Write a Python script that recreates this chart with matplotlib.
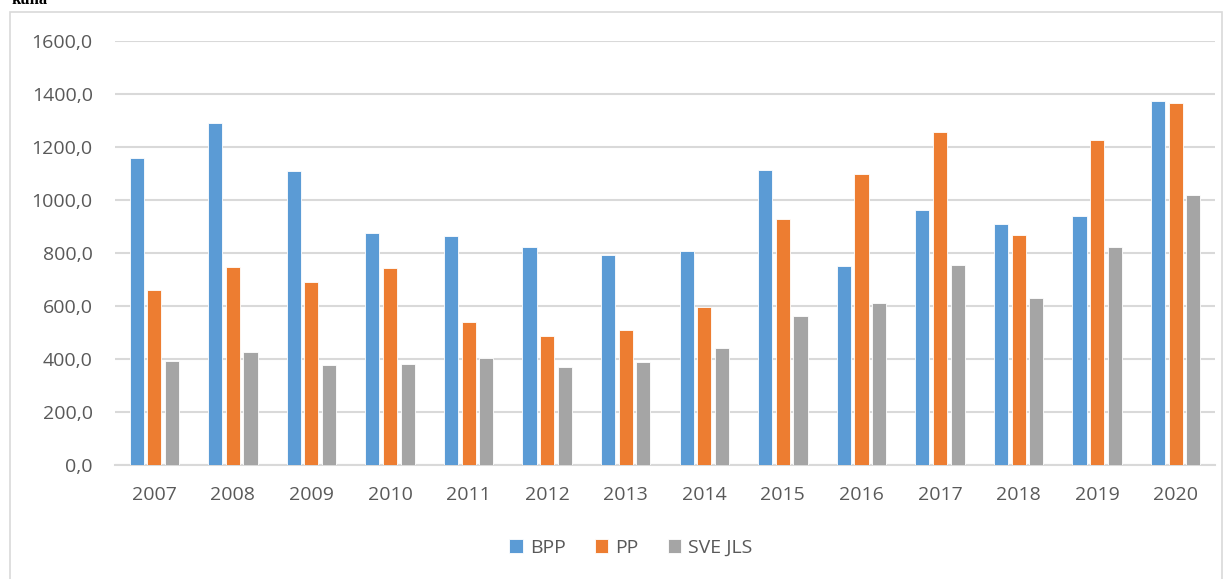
import numpy as np
import matplotlib.pyplot as plt
from matplotlib.patches import Rectangle

years = ["2007", "2008", "2009", "2010", "2011", "2012", "2013",
         "2014", "2015", "2016", "2017", "2018", "2019", "2020"]
bpp = [1157, 1290, 1111, 874, 864, 822, 793, 806, 1115, 752, 963, 909, 940, 1372]
pp = [661, 747, 690, 742, 540, 488, 510, 597, 928, 1100, 1258, 869, 1227, 1366]
sve = [394, 426, 376, 382, 403, 370, 388, 441, 562, 613, 756, 631, 822, 1020]
series = ["BPP", "PP", "SVE JLS"]
colors = ["#5B9BD5", "#ED7D31", "#A5A5A5"]
yticks = [0, 200, 400, 600, 800, 1000, 1200, 1400, 1600]

plt.rcParams['font.family'] = ['Open Sans', 'DejaVu Sans']

fig = plt.figure(figsize=(12.32, 5.79), dpi=100)
# chart frame (light border)
fig.patches.append(Rectangle((10/1232, -0.05), 1212/1232, 1 - 12/579 + 0.05,
                             transform=fig.transFigure, fill=False,
                             edgecolor="#d9d9d9", linewidth=1.2))
# caption above the frame, mostly cut off like in the source
fig.text(12/1232, 1 - 4/579, "kuna", fontsize=12, family="Liberation Serif",
         fontweight="bold", va="baseline", ha="left")

ax = fig.add_axes([115/1232, 1 - 465/579, 1100/1232, 424/579])
x = np.arange(len(years))
w = 0.18
step = 0.225
for i, (vals, name, c) in enumerate(zip([bpp, pp, sve], series, colors)):
    ax.bar(x + (i - 1) * step, vals, width=w, color=c, label=name,
           edgecolor="white", linewidth=0.6, zorder=3)

ax.set_xlim(-0.5, len(years) - 0.5)
ax.set_ylim(0, 1600)
ax.set_yticks(yticks)
ax.set_yticklabels([f"{v},0" for v in yticks])
ax.set_xticks(x)
ax.set_xticklabels(years)
ax.yaxis.grid(True, color="#d9d9d9", linewidth=1.5, zorder=0)
for s in ["top", "right", "left"]:
    ax.spines[s].set_visible(False)
ax.spines["bottom"].set_color("#d9d9d9")
ax.spines["bottom"].set_linewidth(1.5)
ax.tick_params(axis="both", length=0, labelsize=14, labelcolor="#595959")
ax.tick_params(axis="y", pad=16)
ax.tick_params(axis="x", pad=15)

ax.legend(loc="center", bbox_to_anchor=(0.469, -0.195), ncol=3, frameon=False,
          fontsize=14, labelcolor="#595959", handlelength=0.7, handleheight=0.7,
          handletextpad=0.35, columnspacing=1.5)

fig.savefig("out.png", dpi=100)
